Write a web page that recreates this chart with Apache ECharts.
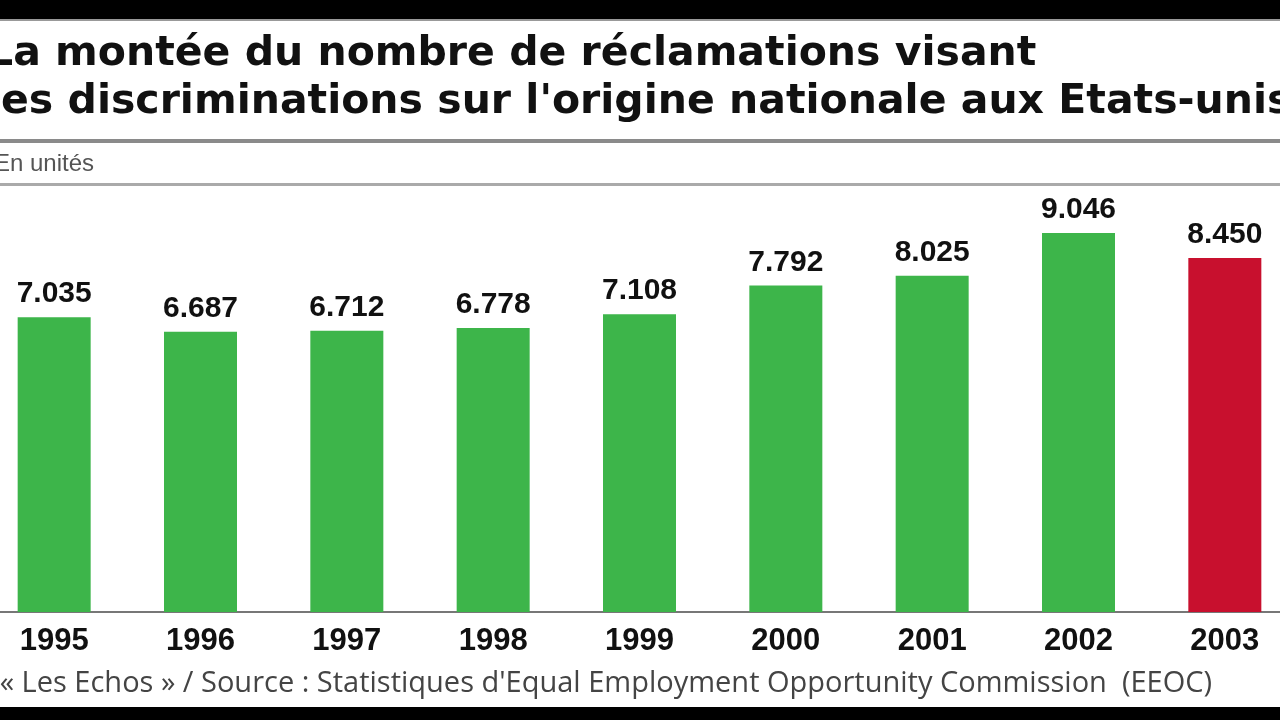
<!DOCTYPE html>
<html>
<head>
<meta charset="utf-8">
<script src="https://cdn.jsdelivr.net/npm/echarts@6/dist/echarts.min.js"></script>
<style>
html,body{margin:0;padding:0;background:#fff;overflow:hidden;width:1280px;height:720px;position:relative;}
#chart{position:absolute;left:-19px;top:0;width:1317px;height:720px;}
</style>
</head>
<body>
<div id="chart"></div>
<script>
const titleLines = ["La montée du nombre de réclamations visant", "les discriminations sur l'origine nationale aux Etats-unis"];
const unitLabel = "En unités";
const sourceText = "© « Les Echos » / Source : Statistiques d'Equal Employment Opportunity Commission  (EEOC)";
const years = ["1995", "1996", "1997", "1998", "1999", "2000", "2001", "2002", "2003"];
const claims = [7035, 6687, 6712, 6778, 7108, 7792, 8025, 9046, 8450];
const highlightYear = "2003";

const GREEN = '#3db54a';
const RED = '#c8102e';
const OX = 19; // chart canvas is shifted left by this many px

function fmt(v) {
  return String(v).replace(/\B(?=(\d{3})+(?!\d))/g, '.');
}

const chart = echarts.init(document.getElementById('chart'), null, {renderer: 'canvas'});
chart.setOption({
  backgroundColor: '#fff',
  animation: false,
  grid: {left: 0, right: 0, top: 193, bottom: 108, containLabel: false},
  xAxis: {
    type: 'category',
    data: years,
    axisLine: {lineStyle: {color: '#777', width: 2}},
    axisTick: {show: false},
    axisLabel: {
      color: '#111', fontSize: 31, fontWeight: 'bold',
      fontFamily: '"Liberation Sans", Arial, sans-serif',
      margin: 14
    }
  },
  yAxis: {
    type: 'value', min: 0, max: 10000,
    show: false,
    splitLine: {show: false}
  },
  series: [{
    type: 'bar',
    barWidth: 73,
    data: claims.map((v, i) => ({value: v, itemStyle: {color: years[i] === highlightYear ? RED : GREEN}})),
    label: {
      show: true, position: 'top', distance: 8,
      color: '#111', fontSize: 30, fontWeight: 'bold',
      fontFamily: '"Liberation Sans", Arial, sans-serif',
      formatter: p => fmt(p.value)
    }
  }],
  graphic: [
    {type: 'rect', shape: {x: 0, y: 0, width: 1320, height: 19}, style: {fill: '#000'}},
    {type: 'rect', shape: {x: 0, y: 19, width: 1320, height: 2}, style: {fill: '#999'}},
    {type: 'rect', shape: {x: 0, y: 707, width: 1320, height: 13}, style: {fill: '#000'}},
    {type: 'text', x: OX - 13, y: 75, style: {text: titleLines[0], font: 'bold 41px "DejaVu Sans", sans-serif', fill: '#111', verticalAlign: 'bottom'}},
    {type: 'text', x: OX - 13, y: 123, style: {text: titleLines[1], font: 'bold 41px "DejaVu Sans", sans-serif', fill: '#111', verticalAlign: 'bottom'}},
    {type: 'rect', shape: {x: 0, y: 139, width: 1320, height: 4}, style: {fill: '#8a8a8a'}},
    {type: 'text', x: OX - 6, y: 152, style: {text: unitLabel, font: '24px "Liberation Sans Narrow", "Liberation Sans", sans-serif', fill: '#555'}},
    {type: 'rect', shape: {x: 0, y: 183, width: 1320, height: 3}, style: {fill: '#aaa'}},
    {type: 'text', x: OX - 32, y: 669, style: {text: sourceText, font: '29px "Open Sans", sans-serif', fill: '#444'}}
  ]
});
</script>
</body>
</html>
